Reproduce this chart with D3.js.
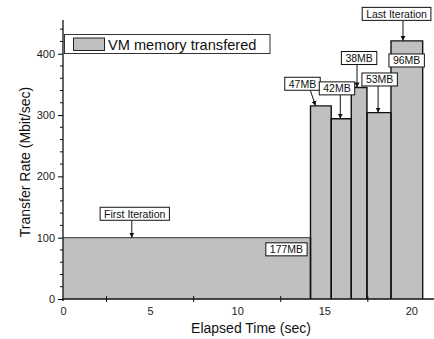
<!DOCTYPE html>
<html>
<head>
<meta charset="utf-8">
<script src="https://cdn.jsdelivr.net/npm/d3@7"></script>
<style>
  body { margin: 0; background: #fff; }
  svg { display: block; font-family: "Liberation Sans", Arial, sans-serif; }
  svg text { font-family: "Liberation Sans", Arial, sans-serif; }
</style>
</head>
<body>
<svg id="chart" width="434" height="339"></svg>
<script>
// iteration boundaries (sec) and transfer rate per iteration (Mbit/sec)
var edges = [0, 14.21, 15.4, 16.55, 17.45, 18.83, 20.65];
var rates = [100, 315, 294, 345, 304, 421];

var xTicks = [0, 5, 10, 15, 20];
var yTicks = [0, 100, 200, 300, 400];

var legendLabel = "VM memory transfered";

// callouts: text, box centre (t, v), arrow tip (t, v) or none
var notes = [
  {text: "First Iteration", t: 4.12, v: 139, tipT: 3.95, tipV: 100},
  {text: "177MB", t: 12.83, v: 81},
  {text: "47MB", t: 13.75, v: 351, fromT: 14.2, tipT: 14.5, tipV: 315},
  {text: "42MB", t: 15.73, v: 343.5, tipT: 15.92, tipV: 294},
  {text: "38MB", t: 17.0, v: 393, tipT: 16.88, tipV: 345},
  {text: "53MB", t: 18.18, v: 358, tipT: 18.09, tipV: 304},
  {text: "96MB", t: 19.73, v: 389},
  {text: "Last Iteration", t: 19.15, v: 465, tipT: 19.52, tipV: 421}
];

var svg = d3.select("#chart");

var x = d3.scaleLinear().domain([0, 21.3]).range([63, 434]);
var y = d3.scaleLinear().domain([0, 455]).range([299, 20]);

var bars = rates.map(function(r, i) { return {x0: edges[i], x1: edges[i + 1], v: r}; });

// bar fills
svg.selectAll("rect.bar")
  .data(bars).enter()
  .append("rect")
    .attr("class", "bar")
    .attr("x", function(d) { return x(d.x0); })
    .attr("y", function(d) { return y(d.v); })
    .attr("width", function(d) { return x(d.x1) - x(d.x0); })
    .attr("height", function(d) { return y(0) - y(d.v); })
    .attr("fill", "#c0c0c0");

// bar outlines (first one has a grey top edge only)
svg.append("line")
  .attr("x1", x(0)).attr("x2", x(edges[1]))
  .attr("y1", y(rates[0])).attr("y2", y(rates[0]))
  .attr("stroke", "#555").attr("stroke-width", 1.3);

svg.selectAll("path.bar-edge")
  .data(bars.slice(1)).enter()
  .append("path")
    .attr("class", "bar-edge")
    .attr("d", function(d) {
      return "M" + x(d.x0) + "," + y(0) + "V" + y(d.v) + "H" + x(d.x1) + "V" + y(0);
    })
    .attr("fill", "none")
    .attr("stroke", "#111")
    .attr("stroke-width", 1.4);

svg.append("line")
  .attr("x1", x(edges[1])).attr("x2", x(edges[1]))
  .attr("y1", y(0)).attr("y2", y(rates[0]))
  .attr("stroke", "#111").attr("stroke-width", 1.4);

// axes
var yAxis = d3.axisLeft(y).tickValues(yTicks).tickSize(5).tickPadding(3);
var gy = svg.append("g").attr("transform", "translate(" + x(0) + ",0)").call(yAxis);
gy.select(".domain").attr("d", "M0," + y(455) + "V" + (y(0) + 2)).attr("stroke", "#111").attr("stroke-width", 1.3);
gy.selectAll("text").attr("font-size", 11).attr("fill", "#222");
gy.attr("font-family", null);

// y minor ticks
svg.selectAll("line.ymin")
  .data(d3.range(20, 455, 20).filter(function(v) { return v % 100 !== 0; })).enter()
  .append("line")
    .attr("x1", x(0) - 3).attr("x2", x(0))
    .attr("y1", function(d) { return y(d); }).attr("y2", function(d) { return y(d); })
    .attr("stroke", "#111");

var xAxis = d3.axisBottom(x).tickValues(xTicks).tickSize(0).tickPadding(8);
var gx = svg.append("g").attr("transform", "translate(0," + y(0) + ")").call(xAxis);
gx.select(".domain").attr("d", "M" + x(0) + ",0H434").attr("stroke", "#111").attr("stroke-width", 1.3);
gx.selectAll("text").attr("font-size", 11).attr("fill", "#222");
gx.attr("font-family", null);

// x minor ticks cross the axis
svg.selectAll("line.xmin")
  .data([2.5, 7.5, 12.5, 17.5]).enter()
  .append("line")
    .attr("x1", function(d) { return x(d); }).attr("x2", function(d) { return x(d); })
    .attr("y1", y(0) - 3).attr("y2", y(0) + 3)
    .attr("stroke", "#111");

// axis titles
svg.append("text")
  .attr("x", 251).attr("y", 333)
  .attr("text-anchor", "middle")
  .attr("font-size", 14).attr("fill", "#111")
  .text("Elapsed Time (sec)");

svg.append("text")
  .attr("transform", "translate(30,162) rotate(-90)")
  .attr("text-anchor", "middle")
  .attr("font-size", 14).attr("fill", "#111")
  .text("Transfer Rate (Mbit/sec)");

// legend
var legend = svg.append("g");
legend.append("rect")
  .attr("x", 64.5).attr("y", 34.5).attr("width", 205.5).attr("height", 19)
  .attr("fill", "#fff").attr("stroke", "#333").attr("stroke-width", 1);
legend.append("rect")
  .attr("x", 73.5).attr("y", 38).attr("width", 31).attr("height", 12.5)
  .attr("fill", "#c0c0c0").attr("stroke", "#222").attr("stroke-width", 1);
legend.append("text")
  .attr("x", 108).attr("y", 49.5)
  .attr("font-size", 14.6).attr("fill", "#111")
  .text(legendLabel);

// arrowhead
svg.append("defs").append("marker")
  .attr("id", "arrow")
  .attr("viewBox", "0 0 10 10")
  .attr("refX", 10).attr("refY", 5)
  .attr("markerWidth", 5).attr("markerHeight", 6)
  .attr("markerUnits", "userSpaceOnUse")
  .attr("orient", "auto")
  .append("path").attr("d", "M0,0L10,5L0,10Z").attr("fill", "#111");

// callouts
var callouts = svg.selectAll("g.note").data(notes).enter().append("g").attr("class", "note");

callouts.filter(function(d) { return d.tipT !== undefined; })
  .append("line")
    .attr("x1", function(d) { return x(d.fromT !== undefined ? d.fromT : d.tipT); })
    .attr("y1", function(d) { return y(d.v) + 6.5; })
    .attr("x2", function(d) { return x(d.tipT); })
    .attr("y2", function(d) { return y(d.tipV); })
    .attr("stroke", "#111").attr("stroke-width", 1)
    .attr("marker-end", "url(#arrow)");

callouts.each(function(d) {
  var g = d3.select(this);
  var t = g.append("text")
    .attr("x", x(d.t)).attr("y", y(d.v) + 3.8)
    .attr("text-anchor", "middle")
    .attr("font-size", 10.5).attr("fill", "#111")
    .text(d.text);
  var w = t.node().getComputedTextLength() + 8;
  g.insert("rect", "text")
    .attr("x", x(d.t) - w / 2).attr("y", y(d.v) - 6.5)
    .attr("width", w).attr("height", 13)
    .attr("fill", "#fff").attr("stroke", "#111").attr("stroke-width", 1);
});
</script>
</body>
</html>
